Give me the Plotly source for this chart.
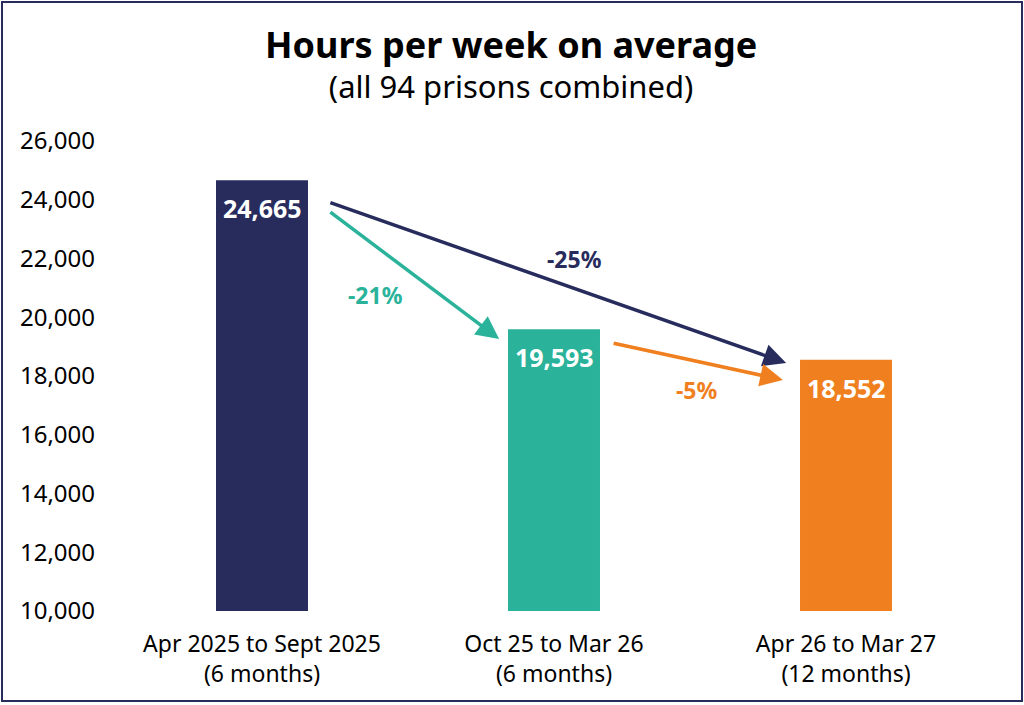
import plotly.graph_objects as go

# ---- data ----
periods = ["Apr 2025 to Sept 2025", "Oct 25 to Mar 26", "Apr 26 to Mar 27"]
durations = ["(6 months)", "(6 months)", "(12 months)"]
hours = [24665, 19593, 18552]
bar_colors = ["#272C5D", "#2AB39A", "#F07F1F"]
y_ticks = [10000, 12000, 14000, 16000, 18000, 20000, 22000, 24000, 26000]
title_text = "Hours per week on average"
subtitle_text = "(all 94 prisons combined)"

# ---- layout constants ----
W, H = 1024, 705
ML, MR, MT, MB = 116, 32, 141, 94
PW, PH = W - ML - MR, H - MT - MB
FONT = "Noto Sans"
NAVY = "#272C5D"

xs = list(range(len(hours)))

fig = go.Figure()
fig.add_trace(go.Bar(
    x=xs, y=hours, width=0.315,
    marker=dict(color=bar_colors, line=dict(width=0)),
    hoverinfo="skip", showlegend=False,
))

ann = []
# value labels inside bars
for i, v in enumerate(hours):
    ann.append(dict(x=i, y=v, xref="x", yref="y", text=f"<b>{v:,}</b>",
                    showarrow=False, yshift=-28, yanchor="middle",
                    font=dict(family=FONT, size=25, color="white")))

# change arrows: (from, to, colour, start offset, end offset, x start, x end, label shift)
arrows = [
    (0, 2, bar_colors[0], 742, 109, 0.229, 1.795, (17, -24)),
    (0, 1, bar_colors[1], 1048, 333, 0.229, 0.812, (-38, 20)),
    (1, 2, bar_colors[2], 470, 688, 1.199, 1.784, (-1, 28)),
]
for a, b, col, off0, off1, x0, x1, (dx, dy) in arrows:
    y0 = hours[a] - off0
    y1 = hours[b] - off1
    ann.append(dict(x=x1, y=y1, ax=x0, ay=y0, xref="x", yref="y",
                    axref="x", ayref="y", text="", showarrow=True,
                    arrowhead=2, arrowsize=1.3, arrowwidth=3.5, arrowcolor=col))
    pct = round((hours[b] - hours[a]) / hours[a] * 100)
    ann.append(dict(x=(x0 + x1) / 2, y=(y0 + y1) / 2, xref="x", yref="y",
                    text=f"<b>{pct}%</b>", showarrow=False, xshift=dx, yshift=-dy,
                    font=dict(family=FONT, size=23, color=col)))


def px_to_paper_x(px):
    return (px - ML) / PW


def px_to_paper_y(py):
    return (H - MB - py) / PH


# title + subtitle in one text block
ann.append(dict(x=px_to_paper_x(511), y=px_to_paper_y(64), xref="paper", yref="paper",
                text=(f"<span style='font-size:36px'><b>{title_text}</b></span>"
                      f"<br>{subtitle_text}"),
                showarrow=False, yanchor="middle", align="center",
                font=dict(family=FONT, size=31, color="black")))

# outer border
fig.add_shape(type="rect", xref="paper", yref="paper",
              x0=px_to_paper_x(2), x1=px_to_paper_x(1022),
              y0=px_to_paper_y(701), y1=px_to_paper_y(2),
              line=dict(color=NAVY, width=2), fillcolor="rgba(0,0,0,0)")

fig.update_layout(
    width=W, height=H,
    margin=dict(l=ML, r=MR, t=MT, b=MB, pad=0),
    paper_bgcolor="white", plot_bgcolor="white",
    annotations=ann,
    font=dict(family=FONT, size=24, color="black"),
    xaxis=dict(range=[-0.5, len(hours) - 0.5],
               tickvals=xs,
               ticktext=[f"{p}<br>{d}" for p, d in zip(periods, durations)],
               showgrid=False, zeroline=False, showline=False, ticks="",
               ticklabelstandoff=17,
               tickfont=dict(family=FONT, size=23, color="black")),
    yaxis=dict(range=[y_ticks[0], y_ticks[-1]], tickvals=y_ticks,
               tickformat=",", showgrid=False, zeroline=False, showline=False,
               ticks="", ticklabelstandoff=20,
               tickfont=dict(family=FONT, size=24, color="black")),
)

fig.write_html(
    "out.html",
    config={"displayModeBar": False},
    post_script="document.body.style.margin='0';document.body.style.overflow='hidden';",
)
